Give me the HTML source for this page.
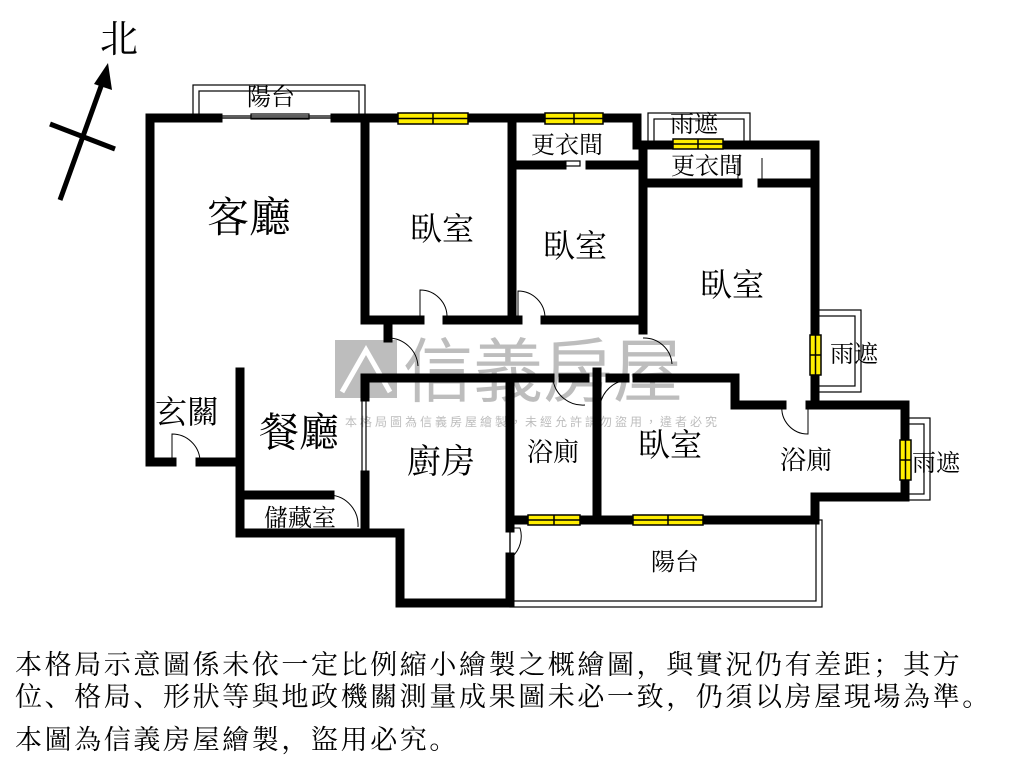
<!DOCTYPE html>
<html><head><meta charset="utf-8"><style>
body{margin:0;background:#fff;width:1024px;height:768px;overflow:hidden}
svg{position:absolute;left:0;top:0}
.t{font-family:"Liberation Serif","Noto Serif CJK SC",serif;fill:#000}
.note{position:absolute;left:15px;font-family:"Liberation Serif","Noto Serif CJK SC",serif;font-size:27px;line-height:34px;letter-spacing:2.6px;color:#000;white-space:nowrap}
</style></head><body>
<svg width="1024" height="768" xmlns="http://www.w3.org/2000/svg">
<!-- watermark -->
<g opacity="0.55">
<rect x="335" y="340" width="62" height="58" fill="#888"/>
<path d="M342 392 L366 350 L390 392" stroke="#fff" stroke-width="5" fill="none"/>
<text x="403" y="396" font-family="Liberation Sans,Noto Sans CJK TC,sans-serif" font-size="70" fill="#888">信義房屋</text>
<text x="345" y="426" font-family="Liberation Sans,Noto Sans CJK TC,sans-serif" font-size="12" fill="#888" letter-spacing="3">本格局圖為信義房屋繪製，未經允許請勿盜用，違者必究</text>
</g>
<!-- thin outlines -->
<g fill="none" stroke="#000" stroke-width="1.2">
<rect x="193" y="85" width="172" height="33"/><rect x="199" y="91" width="160" height="27"/>
<rect x="648" y="113" width="102" height="30"/><rect x="654" y="119" width="90" height="24"/>
<rect x="815" y="310" width="46" height="82"/><rect x="815" y="316" width="40" height="70"/>
<rect x="905" y="418" width="25" height="82"/><rect x="905" y="424" width="19" height="70"/>
<rect x="510" y="520" width="312" height="87"/><rect x="510" y="520" width="306" height="81"/>
<line x1="366" y1="397" x2="366" y2="475"/><line x1="362" y1="397" x2="362" y2="475"/>
<line x1="218" y1="116" x2="335" y2="116"/><rect x="251" y="114" width="58" height="5"/>
<rect x="565" y="161" width="15" height="5"/>
</g>
<!-- walls -->
<g stroke="#000" stroke-width="9" stroke-linecap="square" fill="none">
<path d="M218 118 H150 V462 H172"/>
<path d="M200 462 H240"/>
<path d="M240 372 V533 H400 V603 H510 V557"/>
<path d="M240 495 H330"/>
<path d="M365 475 V533"/>
<path d="M365 378 V397"/>
<path d="M335 118 H637 V145 H643 V330"/>
<path d="M637 145 H815 V405"/>
<path d="M365 118 V320 H420"/><path d="M447 320 H518"/><path d="M545 320 H640"/>
<path d="M388 320 V338"/>
<path d="M512 118 V320"/>
<path d="M512 165 H562"/><path d="M590 165 H640"/>
<path d="M643 183 H738"/><path d="M762 183 H815"/>
<path d="M365 378 H550"/><path d="M563 378 H585"/><path d="M597 372 V520"/><path d="M610 378 H625"/><path d="M637 378 H735 V405 H782"/>
<path d="M810 405 H905 V497 H815 V520 H510 V528"/>
<path d="M510 378 V520"/>
</g>
<!-- windows -->
<g fill="#ffee00" stroke="#000" stroke-width="1.5">
<rect x="398" y="113" width="70" height="11"/><line x1="433" y1="113" x2="433" y2="124"/><line x1="398" y1="118.5" x2="468" y2="118.5"/>
<rect x="545" y="113" width="58" height="11"/><line x1="574" y1="113" x2="574" y2="124"/><line x1="545" y1="118.5" x2="603" y2="118.5"/>
<rect x="673" y="139" width="50" height="10"/><line x1="698" y1="139" x2="698" y2="149"/><line x1="673" y1="144" x2="723" y2="144"/>
<rect x="810" y="335" width="11" height="40"/><line x1="810" y1="355" x2="821" y2="355"/><line x1="815.5" y1="335" x2="815.5" y2="375"/>
<rect x="900" y="440" width="11" height="40"/><line x1="900" y1="460" x2="911" y2="460"/><line x1="905.5" y1="440" x2="905.5" y2="480"/>
<rect x="528" y="515" width="52" height="10"/><line x1="554" y1="515" x2="554" y2="525"/><line x1="528" y1="520" x2="580" y2="520"/>
<rect x="633" y="515" width="70" height="10"/><line x1="668" y1="515" x2="668" y2="525"/><line x1="633" y1="520" x2="703" y2="520"/>
</g>
<!-- door arcs -->
<g fill="none" stroke="#000" stroke-width="1">
<path d="M420 320 V290 A27 27 0 0 1 447 318"/>
<path d="M518 320 V291 A27 27 0 0 1 545 318"/>
<path d="M388 338 A30 30 0 0 1 418 366"/>
<path d="M172 462 V434 A28 28 0 0 1 200 460"/>
<path d="M510 528 H520 A28 28 0 0 1 512 557"/>
<path d="M330 495 A30 30 0 0 1 358 527"/>
<path d="M553 380 A30 30 0 0 0 585 405"/>
<path d="M628 380 A30 30 0 0 0 600 405"/>
<path d="M643 338 A28 28 0 0 1 672 364"/>
<path d="M782 405 A26 26 0 0 0 808 434 V405"/>
<path d="M738 183 V158 M762 183 V158"/>
</g>
<!-- labels -->
<g class="t">
<text x="207" y="232" font-size="42">客廳</text>
<text x="410" y="240" font-size="32">臥室</text>
<text x="543" y="257" font-size="32">臥室</text>
<text x="700" y="296" font-size="32">臥室</text>
<text x="638" y="456" font-size="32">臥室</text>
<text x="155" y="423" font-size="32">玄關</text>
<text x="259" y="446" font-size="40">餐廳</text>
<text x="407" y="473" font-size="34">廚房</text>
<text x="527" y="461" font-size="26">浴廁</text>
<text x="780" y="469" font-size="26">浴廁</text>
<text x="264" y="526" font-size="24">儲藏室</text>
<text x="247" y="105" font-size="24">陽台</text>
<text x="651" y="570" font-size="24">陽台</text>
<text x="531" y="153" font-size="24">更衣間</text>
<text x="671" y="174" font-size="24">更衣間</text>
<text x="670" y="132" font-size="24">雨遮</text>
<text x="830" y="362" font-size="24">雨遮</text>
<text x="912" y="471" font-size="24">雨遮</text>
<text x="100" y="52" font-size="38">北</text>
</g>
<!-- north arrow -->
<line x1="60" y1="200" x2="104" y2="78" stroke="#000" stroke-width="5"/>
<polygon points="108,63 112,90 94,84" fill="#000"/>
<line x1="50" y1="124" x2="115" y2="149" stroke="#000" stroke-width="5"/>
</svg>
<div class="note" style="top:648px">本格局示意圖係未依一定比例縮小繪製之概繪圖，與實況仍有差距；其方</div>
<div class="note" style="top:680px">位、格局、形狀等與地政機關測量成果圖未必一致，仍須以房屋現場為準。</div>
<div class="note" style="top:723px">本圖為信義房屋繪製，盜用必究。</div>
</body></html>
